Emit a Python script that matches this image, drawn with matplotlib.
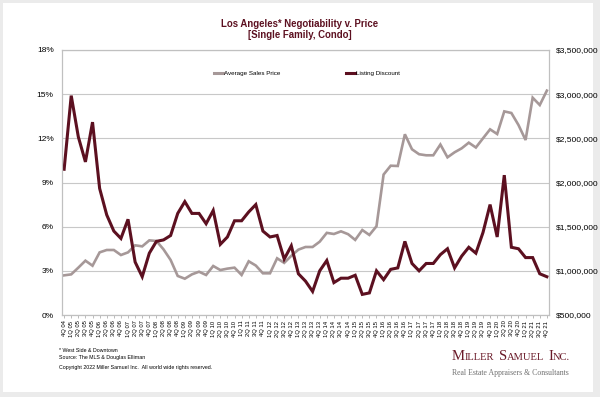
import matplotlib.pyplot as plt
from matplotlib.lines import Line2D
from matplotlib.patches import Rectangle
from matplotlib.ticker import FuncFormatter

plt.rcParams['font.family'] = ['Liberation Sans', 'DejaVu Sans']

# quarters 4Q04 .. 4Q21
quarters = [f'{(3 + i) % 4 + 1}Q {4 + (3 + i) // 4:02d}' for i in range(69)]

# listing discount (%)
discount = [9.9, 14.9, 12.1, 10.4, 13.1, 8.6, 6.8, 5.7, 5.2, 6.5,
            3.6, 2.6, 4.2, 5.0, 5.1, 5.4, 6.9, 7.7, 6.9, 6.9,
            6.2, 7.1, 4.8, 5.3, 6.4, 6.4, 7.0, 7.5, 5.7, 5.3,
            5.4, 3.8, 4.7, 2.8, 2.3, 1.6, 3.0, 3.7, 2.2, 2.5,
            2.5, 2.7, 1.4, 1.5, 3.0, 2.4, 3.1, 3.2, 5.0, 3.5,
            3.0, 3.5, 3.5, 4.1, 4.5, 3.2, 4.0, 4.6, 4.2, 5.6,
            7.5, 5.3, 9.5, 4.6, 4.5, 3.9, 3.9, 2.8, 2.6]

# average sales price ($)
price = [949000, 960000, 1036000, 1115000, 1058000, 1209000, 1236000, 1236000, 1179000, 1209000,
         1289000, 1277000, 1345000, 1338000, 1243000, 1123000, 942000, 911000, 960000, 990000,
         953000, 1055000, 1009000, 1025000, 1036000, 953000, 1108000, 1060000, 972000, 972000,
         1142000, 1090000, 1170000, 1240000, 1270000, 1270000, 1330000, 1430000, 1417000, 1447000,
         1415000, 1350000, 1462000, 1406000, 1505000, 2090000, 2190000, 2187000, 2546000, 2376000,
         2320000, 2308000, 2308000, 2430000, 2285000, 2342000, 2387000, 2451000, 2396000, 2500000,
         2602000, 2549000, 2805000, 2787000, 2651000, 2481000, 2960000, 2877000, 3040000]

pct_ticks = [0, 3, 6, 9, 12, 15, 18]
price_ticks = [500000, 1000000, 1500000, 2000000, 2500000, 3000000, 3500000]

maroon = '#5c1020'
gray_line = '#a69898'
grid_c = '#c8c8c8'

fig = plt.figure(figsize=(6, 3.97), dpi=100)
fig.patch.set_facecolor('#ebebeb')
fig.patches.append(Rectangle((3 / 600, 5 / 397), 590 / 600, 389 / 397,
                             transform=fig.transFigure, facecolor='white',
                             edgecolor='none', zorder=-5))

ax = fig.add_axes([62 / 600, 82 / 397, 487 / 600, 265 / 397])
ax2 = ax.twinx()
ax.set_zorder(ax2.get_zorder() + 1)
ax.patch.set_visible(False)

x = list(range(len(quarters)))
ax2.plot(x, price, color=gray_line, lw=1.9, solid_joinstyle='miter')
ax.plot(x, discount, color=maroon, lw=2.2, solid_joinstyle='miter')

ax.set_xlim(-0.3, 68.3)
ax.set_ylim(0, 18)
ax2.set_ylim(500000, 3500000)
ax.set_yticks(pct_ticks)
ax.set_yticklabels([f'{v}%' for v in pct_ticks])
ax2.set_yticks(price_ticks)
ax2.yaxis.set_major_formatter(FuncFormatter(lambda v, p: f'${v:,.0f}'))
ax2.grid(axis='y', color=grid_c, lw=0.8)
ax2.set_axisbelow(True)

ax.set_xticks(x)
ax.set_xticklabels(quarters, rotation=90, fontsize=4.2)
ax.tick_params(axis='x', length=2.5, width=0.6, color='#b0b0b0', pad=1.5)
ax.tick_params(axis='y', length=0, labelsize=6, pad=6)
ax2.tick_params(axis='y', length=0, labelsize=6, pad=5)
for a in (ax, ax2):
    for s in a.spines.values():
        s.set_color('#c0c0c0')
        s.set_linewidth(0.8)

handles = [Line2D([], [], color=gray_line, lw=2.2),
           Line2D([], [], color=maroon, lw=2.2)]
ax.legend(handles, ['Average Sales Price', 'Listing Discount'], ncol=2,
          loc='center', bbox_to_anchor=(0.503, 0.913), frameon=False,
          fontsize=4.5, handlelength=1.5, handletextpad=0.1,
          columnspacing=10.5, borderpad=0, borderaxespad=0)

fig.text(0.5, 1 - 24 / 397, 'Los Angeles* Negotiability v. Price',
         ha='center', va='center', fontsize=6.9, fontweight='bold', color=maroon)
fig.text(0.5, 1 - 35 / 397, '[Single Family, Condo]',
         ha='center', va='center', fontsize=6.9, fontweight='bold', color=maroon)

fig.text(59 / 600, 1 - 351 / 397, '* West Side & Downtown', fontsize=3.75, va='center')
fig.text(59 / 600, 1 - 357 / 397, 'Source: The MLS & Douglas Elliman', fontsize=3.75, va='center')
fig.text(59 / 600, 1 - 368 / 397,
         'Copyright 2022 Miller Samuel Inc.  All world wide rights reserved.',
         fontsize=3.75, va='center')

# logo in small caps, pieces laid out on one baseline
pieces = [('M', 10.5), ('ILLER', 7.6), (None, 4), ('S', 10.5), ('AMUEL', 7.6),
          (None, 4), ('I', 10.5), ('NC.', 7.6)]
renderer = fig.canvas.get_renderer()
xpos = 452
for txt, size in pieces:
    if txt is None:
        xpos += size
        continue
    t = fig.text(xpos / 600, 1 - 360 / 397, txt, fontsize=size, color='#6a1a28',
                 family='Liberation Serif', va='baseline', ha='left')
    xpos += t.get_window_extent(renderer).width
fig.text(452 / 600, 1 - 373 / 397, 'Real Estate Appraisers & Consultants',
         fontsize=5.6, color='#707070', family='Liberation Serif', va='center')

fig.savefig('out.png', dpi=100)
